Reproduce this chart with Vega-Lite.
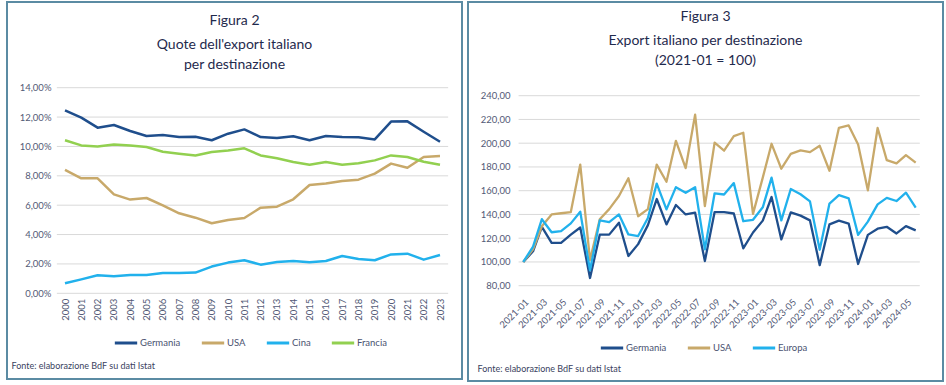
{
  "$schema": "https://vega.github.io/schema/vega-lite/v6.json",
  "background": "white",
  "padding": {"left": 6, "top": 1, "right": 0, "bottom": 0},
  "spacing": 4,
  "resolve": {"scale": {"color": "independent", "x": "independent", "y": "independent"}, "legend": {"color": "independent"}},
  "config": {
    "locale": {"number": {"decimal": ",", "thousands": ".", "grouping": [3], "currency": ["€", ""]}},
    "view": {"stroke": "#5b8ba3", "strokeWidth": 2},
    "font": "Lato",
    "axis": {"labelFont": "Lato", "labelColor": "#535a76", "labelFontSize": 9.5, "ticks": false, "domain": false, "grid": false, "titleFont": "Lato", "labelOverlap": false, "labelFlush": false, "labelBound": false},
    "legend": {"orient": "none", "direction": "horizontal", "symbolType": "stroke", "symbolSize": 500, "symbolStrokeWidth": 3, "labelFont": "Lato", "labelFontSize": 9.5, "labelColor": "#4a5270", "labelOffset": 1, "columnPadding": 14},
    "title": {"font": "Lato", "fontSize": 14, "fontWeight": "normal", "color": "#1f2a4d", "anchor": "middle", "frame": "group", "subtitleFont": "Lato", "subtitleFontSize": 14, "subtitleColor": "#1f2a4d", "subtitlePadding": 10, "subtitleLineHeight": 20}
  },
  "datasets": {
    "quote": [
      {"anno": 2000, "paese": "Germania", "quota": 0.1246}, {"anno": 2001, "paese": "Germania", "quota": 0.1196}, {"anno": 2002, "paese": "Germania", "quota": 0.1128}, {"anno": 2003, "paese": "Germania", "quota": 0.1146}, {"anno": 2004, "paese": "Germania", "quota": 0.1105}, {"anno": 2005, "paese": "Germania", "quota": 0.1071}, {"anno": 2006, "paese": "Germania", "quota": 0.1078}, {"anno": 2007, "paese": "Germania", "quota": 0.1064}, {"anno": 2008, "paese": "Germania", "quota": 0.1066}, {"anno": 2009, "paese": "Germania", "quota": 0.1042}, {"anno": 2010, "paese": "Germania", "quota": 0.1087}, {"anno": 2011, "paese": "Germania", "quota": 0.1116}, {"anno": 2012, "paese": "Germania", "quota": 0.1064}, {"anno": 2013, "paese": "Germania", "quota": 0.1057}, {"anno": 2014, "paese": "Germania", "quota": 0.1069}, {"anno": 2015, "paese": "Germania", "quota": 0.1042}, {"anno": 2016, "paese": "Germania", "quota": 0.1071}, {"anno": 2017, "paese": "Germania", "quota": 0.1064}, {"anno": 2018, "paese": "Germania", "quota": 0.1062}, {"anno": 2019, "paese": "Germania", "quota": 0.1048}, {"anno": 2020, "paese": "Germania", "quota": 0.1169}, {"anno": 2021, "paese": "Germania", "quota": 0.1171}, {"anno": 2022, "paese": "Germania", "quota": 0.1100}, {"anno": 2023, "paese": "Germania", "quota": 0.1032},
      {"anno": 2000, "paese": "USA", "quota": 0.0840}, {"anno": 2001, "paese": "USA", "quota": 0.0783}, {"anno": 2002, "paese": "USA", "quota": 0.0783}, {"anno": 2003, "paese": "USA", "quota": 0.0674}, {"anno": 2004, "paese": "USA", "quota": 0.0638}, {"anno": 2005, "paese": "USA", "quota": 0.0649}, {"anno": 2006, "paese": "USA", "quota": 0.0599}, {"anno": 2007, "paese": "USA", "quota": 0.0545}, {"anno": 2008, "paese": "USA", "quota": 0.0515}, {"anno": 2009, "paese": "USA", "quota": 0.0477}, {"anno": 2010, "paese": "USA", "quota": 0.0499}, {"anno": 2011, "paese": "USA", "quota": 0.0513}, {"anno": 2012, "paese": "USA", "quota": 0.0583}, {"anno": 2013, "paese": "USA", "quota": 0.0590}, {"anno": 2014, "paese": "USA", "quota": 0.0640}, {"anno": 2015, "paese": "USA", "quota": 0.0737}, {"anno": 2016, "paese": "USA", "quota": 0.0747}, {"anno": 2017, "paese": "USA", "quota": 0.0765}, {"anno": 2018, "paese": "USA", "quota": 0.0774}, {"anno": 2019, "paese": "USA", "quota": 0.0815}, {"anno": 2020, "paese": "USA", "quota": 0.0883}, {"anno": 2021, "paese": "USA", "quota": 0.0855}, {"anno": 2022, "paese": "USA", "quota": 0.0928}, {"anno": 2023, "paese": "USA", "quota": 0.0935},
      {"anno": 2000, "paese": "Cina", "quota": 0.0068}, {"anno": 2001, "paese": "Cina", "quota": 0.0095}, {"anno": 2002, "paese": "Cina", "quota": 0.0123}, {"anno": 2003, "paese": "Cina", "quota": 0.0116}, {"anno": 2004, "paese": "Cina", "quota": 0.0125}, {"anno": 2005, "paese": "Cina", "quota": 0.0125}, {"anno": 2006, "paese": "Cina", "quota": 0.0138}, {"anno": 2007, "paese": "Cina", "quota": 0.0138}, {"anno": 2008, "paese": "Cina", "quota": 0.0141}, {"anno": 2009, "paese": "Cina", "quota": 0.0182}, {"anno": 2010, "paese": "Cina", "quota": 0.0209}, {"anno": 2011, "paese": "Cina", "quota": 0.0225}, {"anno": 2012, "paese": "Cina", "quota": 0.0195}, {"anno": 2013, "paese": "Cina", "quota": 0.0213}, {"anno": 2014, "paese": "Cina", "quota": 0.0220}, {"anno": 2015, "paese": "Cina", "quota": 0.0211}, {"anno": 2016, "paese": "Cina", "quota": 0.0220}, {"anno": 2017, "paese": "Cina", "quota": 0.0254}, {"anno": 2018, "paese": "Cina", "quota": 0.0234}, {"anno": 2019, "paese": "Cina", "quota": 0.0225}, {"anno": 2020, "paese": "Cina", "quota": 0.0265}, {"anno": 2021, "paese": "Cina", "quota": 0.0270}, {"anno": 2022, "paese": "Cina", "quota": 0.0229}, {"anno": 2023, "paese": "Cina", "quota": 0.0261},
      {"anno": 2000, "paese": "Francia", "quota": 0.1042}, {"anno": 2001, "paese": "Francia", "quota": 0.1007}, {"anno": 2002, "paese": "Francia", "quota": 0.1000}, {"anno": 2003, "paese": "Francia", "quota": 0.1014}, {"anno": 2004, "paese": "Francia", "quota": 0.1007}, {"anno": 2005, "paese": "Francia", "quota": 0.0996}, {"anno": 2006, "paese": "Francia", "quota": 0.0964}, {"anno": 2007, "paese": "Francia", "quota": 0.0951}, {"anno": 2008, "paese": "Francia", "quota": 0.0939}, {"anno": 2009, "paese": "Francia", "quota": 0.0962}, {"anno": 2010, "paese": "Francia", "quota": 0.0973}, {"anno": 2011, "paese": "Francia", "quota": 0.0987}, {"anno": 2012, "paese": "Francia", "quota": 0.0939}, {"anno": 2013, "paese": "Francia", "quota": 0.0919}, {"anno": 2014, "paese": "Francia", "quota": 0.0894}, {"anno": 2015, "paese": "Francia", "quota": 0.0876}, {"anno": 2016, "paese": "Francia", "quota": 0.0894}, {"anno": 2017, "paese": "Francia", "quota": 0.0876}, {"anno": 2018, "paese": "Francia", "quota": 0.0885}, {"anno": 2019, "paese": "Francia", "quota": 0.0905}, {"anno": 2020, "paese": "Francia", "quota": 0.0939}, {"anno": 2021, "paese": "Francia", "quota": 0.0928}, {"anno": 2022, "paese": "Francia", "quota": 0.0896}, {"anno": 2023, "paese": "Francia", "quota": 0.0876}
    ],
    "griglia1": [{"v": 0}, {"v": 0.02}, {"v": 0.04}, {"v": 0.06}, {"v": 0.08}, {"v": 0.10}, {"v": 0.12}, {"v": 0.14}],
    "griglia2": [{"v": 80}, {"v": 100}, {"v": 120}, {"v": 140}, {"v": 160}, {"v": 180}, {"v": 200}, {"v": 220}, {"v": 240}],
    "export": [
      {"mese": "2021-01", "serie": "Germania", "indice": 100}, {"mese": "2021-02", "serie": "Germania", "indice": 109}, {"mese": "2021-03", "serie": "Germania", "indice": 129.5}, {"mese": "2021-04", "serie": "Germania", "indice": 116}, {"mese": "2021-05", "serie": "Germania", "indice": 116}, {"mese": "2021-06", "serie": "Germania", "indice": 123}, {"mese": "2021-07", "serie": "Germania", "indice": 129}, {"mese": "2021-08", "serie": "Germania", "indice": 86.5}, {"mese": "2021-09", "serie": "Germania", "indice": 123}, {"mese": "2021-10", "serie": "Germania", "indice": 123}, {"mese": "2021-11", "serie": "Germania", "indice": 133}, {"mese": "2021-12", "serie": "Germania", "indice": 105}, {"mese": "2022-01", "serie": "Germania", "indice": 115}, {"mese": "2022-02", "serie": "Germania", "indice": 131}, {"mese": "2022-03", "serie": "Germania", "indice": 153}, {"mese": "2022-04", "serie": "Germania", "indice": 131.6}, {"mese": "2022-05", "serie": "Germania", "indice": 148}, {"mese": "2022-06", "serie": "Germania", "indice": 140}, {"mese": "2022-07", "serie": "Germania", "indice": 141.5}, {"mese": "2022-08", "serie": "Germania", "indice": 100.8}, {"mese": "2022-09", "serie": "Germania", "indice": 142}, {"mese": "2022-10", "serie": "Germania", "indice": 142}, {"mese": "2022-11", "serie": "Germania", "indice": 140.8}, {"mese": "2022-12", "serie": "Germania", "indice": 111.5}, {"mese": "2023-01", "serie": "Germania", "indice": 124.8}, {"mese": "2023-02", "serie": "Germania", "indice": 134.8}, {"mese": "2023-03", "serie": "Germania", "indice": 154.7}, {"mese": "2023-04", "serie": "Germania", "indice": 119}, {"mese": "2023-05", "serie": "Germania", "indice": 141.8}, {"mese": "2023-06", "serie": "Germania", "indice": 139}, {"mese": "2023-07", "serie": "Germania", "indice": 135}, {"mese": "2023-08", "serie": "Germania", "indice": 97.3}, {"mese": "2023-09", "serie": "Germania", "indice": 131.7}, {"mese": "2023-10", "serie": "Germania", "indice": 134.8}, {"mese": "2023-11", "serie": "Germania", "indice": 132.3}, {"mese": "2023-12", "serie": "Germania", "indice": 98.3}, {"mese": "2024-01", "serie": "Germania", "indice": 122.8}, {"mese": "2024-02", "serie": "Germania", "indice": 128}, {"mese": "2024-03", "serie": "Germania", "indice": 129.6}, {"mese": "2024-04", "serie": "Germania", "indice": 124}, {"mese": "2024-05", "serie": "Germania", "indice": 130.2}, {"mese": "2024-06", "serie": "Germania", "indice": 126.6},
      {"mese": "2021-01", "serie": "USA", "indice": 100}, {"mese": "2021-02", "serie": "USA", "indice": 110.6}, {"mese": "2021-03", "serie": "USA", "indice": 130}, {"mese": "2021-04", "serie": "USA", "indice": 140}, {"mese": "2021-05", "serie": "USA", "indice": 141}, {"mese": "2021-06", "serie": "USA", "indice": 142}, {"mese": "2021-07", "serie": "USA", "indice": 182}, {"mese": "2021-08", "serie": "USA", "indice": 101.6}, {"mese": "2021-09", "serie": "USA", "indice": 136}, {"mese": "2021-10", "serie": "USA", "indice": 144.5}, {"mese": "2021-11", "serie": "USA", "indice": 155.5}, {"mese": "2021-12", "serie": "USA", "indice": 170.5}, {"mese": "2022-01", "serie": "USA", "indice": 138.5}, {"mese": "2022-02", "serie": "USA", "indice": 144.5}, {"mese": "2022-03", "serie": "USA", "indice": 182}, {"mese": "2022-04", "serie": "USA", "indice": 167.5}, {"mese": "2022-05", "serie": "USA", "indice": 202}, {"mese": "2022-06", "serie": "USA", "indice": 179}, {"mese": "2022-07", "serie": "USA", "indice": 224}, {"mese": "2022-08", "serie": "USA", "indice": 147}, {"mese": "2022-09", "serie": "USA", "indice": 200.5}, {"mese": "2022-10", "serie": "USA", "indice": 193.7}, {"mese": "2022-11", "serie": "USA", "indice": 206}, {"mese": "2022-12", "serie": "USA", "indice": 208.8}, {"mese": "2023-01", "serie": "USA", "indice": 140.5}, {"mese": "2023-02", "serie": "USA", "indice": 171}, {"mese": "2023-03", "serie": "USA", "indice": 199.5}, {"mese": "2023-04", "serie": "USA", "indice": 178.5}, {"mese": "2023-05", "serie": "USA", "indice": 191}, {"mese": "2023-06", "serie": "USA", "indice": 194}, {"mese": "2023-07", "serie": "USA", "indice": 192.5}, {"mese": "2023-08", "serie": "USA", "indice": 197.8}, {"mese": "2023-09", "serie": "USA", "indice": 176.8}, {"mese": "2023-10", "serie": "USA", "indice": 213}, {"mese": "2023-11", "serie": "USA", "indice": 215}, {"mese": "2023-12", "serie": "USA", "indice": 199}, {"mese": "2024-01", "serie": "USA", "indice": 160.3}, {"mese": "2024-02", "serie": "USA", "indice": 212.8}, {"mese": "2024-03", "serie": "USA", "indice": 185.8}, {"mese": "2024-04", "serie": "USA", "indice": 183}, {"mese": "2024-05", "serie": "USA", "indice": 190}, {"mese": "2024-06", "serie": "USA", "indice": 183.6},
      {"mese": "2021-01", "serie": "Europa", "indice": 100}, {"mese": "2021-02", "serie": "Europa", "indice": 113}, {"mese": "2021-03", "serie": "Europa", "indice": 136}, {"mese": "2021-04", "serie": "Europa", "indice": 125}, {"mese": "2021-05", "serie": "Europa", "indice": 126}, {"mese": "2021-06", "serie": "Europa", "indice": 132.5}, {"mese": "2021-07", "serie": "Europa", "indice": 142.3}, {"mese": "2021-08", "serie": "Europa", "indice": 93}, {"mese": "2021-09", "serie": "Europa", "indice": 135}, {"mese": "2021-10", "serie": "Europa", "indice": 133.5}, {"mese": "2021-11", "serie": "Europa", "indice": 140}, {"mese": "2021-12", "serie": "Europa", "indice": 123.2}, {"mese": "2022-01", "serie": "Europa", "indice": 121.8}, {"mese": "2022-02", "serie": "Europa", "indice": 137}, {"mese": "2022-03", "serie": "Europa", "indice": 166}, {"mese": "2022-04", "serie": "Europa", "indice": 144.3}, {"mese": "2022-05", "serie": "Europa", "indice": 163}, {"mese": "2022-06", "serie": "Europa", "indice": 158.3}, {"mese": "2022-07", "serie": "Europa", "indice": 163}, {"mese": "2022-08", "serie": "Europa", "indice": 110.6}, {"mese": "2022-09", "serie": "Europa", "indice": 157.8}, {"mese": "2022-10", "serie": "Europa", "indice": 156.8}, {"mese": "2022-11", "serie": "Europa", "indice": 166.4}, {"mese": "2022-12", "serie": "Europa", "indice": 134.3}, {"mese": "2023-01", "serie": "Europa", "indice": 135.5}, {"mese": "2023-02", "serie": "Europa", "indice": 146}, {"mese": "2023-03", "serie": "Europa", "indice": 171}, {"mese": "2023-04", "serie": "Europa", "indice": 135}, {"mese": "2023-05", "serie": "Europa", "indice": 161.4}, {"mese": "2023-06", "serie": "Europa", "indice": 157}, {"mese": "2023-07", "serie": "Europa", "indice": 151}, {"mese": "2023-08", "serie": "Europa", "indice": 110.3}, {"mese": "2023-09", "serie": "Europa", "indice": 149.2}, {"mese": "2023-10", "serie": "Europa", "indice": 156.2}, {"mese": "2023-11", "serie": "Europa", "indice": 153.6}, {"mese": "2023-12", "serie": "Europa", "indice": 122.8}, {"mese": "2024-01", "serie": "Europa", "indice": 134}, {"mese": "2024-02", "serie": "Europa", "indice": 148.5}, {"mese": "2024-03", "serie": "Europa", "indice": 154}, {"mese": "2024-04", "serie": "Europa", "indice": 151.3}, {"mese": "2024-05", "serie": "Europa", "indice": 158.3}, {"mese": "2024-06", "serie": "Europa", "indice": 145.8}
    ]
  },
  "hconcat": [
    {
      "width": 455,
      "height": 377,
      "title": {"text": "Figura 2", "subtitle": ["Quote dell'export italiano", "per destinazione"], "offset": -70},
      "resolve": {"axis": {"x": "independent", "y": "independent"}},
      "layer": [
        {
          "data": {"name": "griglia1"},
          "mark": {"type": "rule", "color": "#d9d9d9", "strokeWidth": 1},
          "encoding": {
            "y": {"field": "v", "type": "quantitative", "axis": null},
            "x": {"datum": 1999.5, "type": "quantitative", "axis": null},
            "x2": {"datum": 2023.5}
          }
        },
        {
          "data": {"name": "quote"},
          "mark": {"type": "line", "strokeWidth": 2.5, "strokeJoin": "round"},
          "encoding": {
            "x": {
              "field": "anno", "type": "quantitative",
              "scale": {"domain": [2000, 2023], "range": [58, 433], "nice": false, "zero": false},
              "axis": {"values": [2000, 2001, 2002, 2003, 2004, 2005, 2006, 2007, 2008, 2009, 2010, 2011, 2012, 2013, 2014, 2015, 2016, 2017, 2018, 2019, 2020, 2021, 2022, 2023], "format": "d", "labelAngle": -90, "offset": -85.7, "labelPadding": 5,
                "title": "Fonte: elaborazione BdF su dati Istat", "titleAnchor": "start", "titleAlign": "left", "titleX": 4, "titleY": 75, "titleBaseline": "alphabetic", "titleFontSize": 9, "titleFontWeight": "normal", "titleColor": "#3a4260"}
            },
            "y": {
              "field": "quota", "type": "quantitative",
              "scale": {"domain": [0, 0.14], "range": [291.3, 85.7], "nice": false},
              "axis": {"values": [0, 0.02, 0.04, 0.06, 0.08, 0.1, 0.12, 0.14], "format": ".2%", "offset": -48, "labelPadding": 4, "title": null}
            },
            "color": {
              "field": "paese", "type": "nominal",
              "scale": {"domain": ["Germania", "USA", "Cina", "Francia"], "range": ["#1f4e8c", "#c8a96a", "#21b1ec", "#92d050"]},
              "legend": {"title": null, "legendX": 106, "legendY": 328}
            }
          }
        }
      ]
    },
    {
      "width": 475,
      "height": 379,
      "title": {"text": "Figura 3", "subtitle": ["Export italiano per destinazione", "(2021-01 = 100)"], "offset": -66},
      "resolve": {"axis": {"x": "independent", "y": "independent"}},
      "layer": [
        {
          "data": {"name": "griglia2"},
          "mark": {"type": "rule", "color": "#d9d9d9", "strokeWidth": 1},
          "encoding": {
            "y": {"field": "v", "type": "quantitative", "axis": null},
            "x": {"datum": {"year": 2020, "month": 12, "date": 17, "utc": true}, "type": "temporal", "axis": null},
            "x2": {"datum": {"year": 2024, "month": 6, "date": 14, "utc": true}}
          }
        },
        {
          "data": {"name": "export"},
          "mark": {"type": "line", "strokeWidth": 2.3, "strokeJoin": "round"},
          "encoding": {
            "x": {
              "field": "mese", "type": "temporal", "timeUnit": "utcyearmonth",
              "scale": {"domain": [{"year": 2021, "month": 1, "date": 1, "utc": true}, {"year": 2024, "month": 6, "date": 1, "utc": true}], "range": [55.3, 447.7], "nice": false},
              "axis": {
                "values": [
                  {"year": 2021, "month": 1, "date": 1, "utc": true}, {"year": 2021, "month": 3, "date": 1, "utc": true}, {"year": 2021, "month": 5, "date": 1, "utc": true}, {"year": 2021, "month": 7, "date": 1, "utc": true}, {"year": 2021, "month": 9, "date": 1, "utc": true}, {"year": 2021, "month": 11, "date": 1, "utc": true},
                  {"year": 2022, "month": 1, "date": 1, "utc": true}, {"year": 2022, "month": 3, "date": 1, "utc": true}, {"year": 2022, "month": 5, "date": 1, "utc": true}, {"year": 2022, "month": 7, "date": 1, "utc": true}, {"year": 2022, "month": 9, "date": 1, "utc": true}, {"year": 2022, "month": 11, "date": 1, "utc": true},
                  {"year": 2023, "month": 1, "date": 1, "utc": true}, {"year": 2023, "month": 3, "date": 1, "utc": true}, {"year": 2023, "month": 5, "date": 1, "utc": true}, {"year": 2023, "month": 7, "date": 1, "utc": true}, {"year": 2023, "month": 9, "date": 1, "utc": true}, {"year": 2023, "month": 11, "date": 1, "utc": true},
                  {"year": 2024, "month": 1, "date": 1, "utc": true}, {"year": 2024, "month": 3, "date": 1, "utc": true}, {"year": 2024, "month": 5, "date": 1, "utc": true}
                ],
                "format": "%Y-%m", "labelAngle": -45, "offset": -95.3, "labelPadding": 11,
                "title": "Fonte: elaborazione BdF su dati Istat", "titleAnchor": "start", "titleAlign": "left", "titleX": 9, "titleY": 86, "titleBaseline": "alphabetic", "titleFontSize": 9, "titleFontWeight": "normal", "titleColor": "#3a4260"
              }
            },
            "y": {
              "field": "indice", "type": "quantitative",
              "scale": {"domain": [80, 240], "range": [283.7, 93.7], "nice": false, "zero": false},
              "axis": {"values": [80, 100, 120, 140, 160, 180, 200, 220, 240], "format": ".2f", "offset": -46, "labelPadding": 4, "title": null}
            },
            "color": {
              "field": "serie", "type": "nominal",
              "scale": {"domain": ["Germania", "USA", "Europa"], "range": ["#1f4e8c", "#c8a96a", "#21b1ec"]},
              "legend": {"title": null, "legendX": 131, "legendY": 333}
            }
          }
        }
      ]
    }
  ]
}
